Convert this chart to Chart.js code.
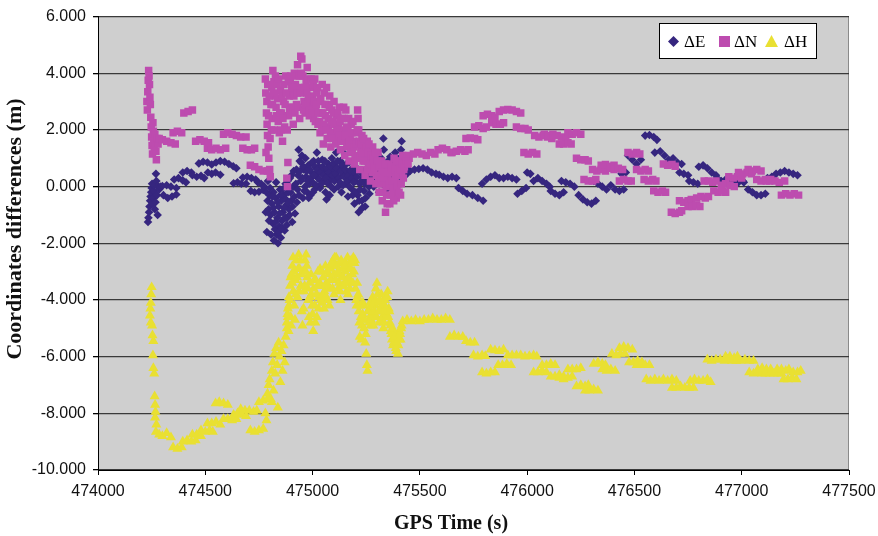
<!DOCTYPE html>
<html>
<head>
<meta charset="utf-8">
<script src="https://cdn.jsdelivr.net/npm/chart.js@4.4.1/dist/chart.umd.min.js"></script>
<style>
  html, body { margin: 0; padding: 0; background: #fff; }
  #wrap { width: 878px; height: 536px; }
</style>
</head>
<body>
<div id="wrap"><canvas id="c" width="878" height="536"></canvas></div>
<script>
// GPS time (s), coordinate difference (m)
const eastData = [
  [474233,-1.25],[474235,-1.1],[474238,-0.9],[474240,-0.7],[474243,-0.5],[474245,-0.35],[474248,-0.2],[474250,-0.05],
  [474252,0.1],[474255,-0.6],[474258,-0.4],[474260,-0.15],[474262,0.05],[474265,-0.8],[474268,-0.55],[474270,0.45],
  [474272,0.2],[474275,-0.3],[474278,-1.0],[474280,0.0],[474285,-0.1],[474290,0.0],
  [474300,0.02],[474320,0.05],[474340,0.0],[474365,-0.05],
  [474305,-0.3],[474325,-0.4],[474345,-0.35],[474365,-0.28],
  [474355,0.25],[474375,0.3],[474395,0.22],[474410,0.15],
  [474395,0.5],[474415,0.55],[474435,0.5],
  [474440,0.4],[474460,0.35],[474480,0.38],[474495,0.3],
  [474470,0.82],[474490,0.88],[474510,0.85],[474530,0.78],
  [474512,0.5],[474530,0.45],[474548,0.5],[474570,0.42],
  [474550,0.85],[474570,0.9],[474590,0.88],[474610,0.8],[474630,0.72],[474645,0.65],
  [474632,0.12],[474650,0.15],[474668,0.1],[474690,0.1],
  [474675,0.32],[474695,0.35],[474715,0.3],[474735,0.25],
  [474712,-0.15],[474730,-0.2],[474750,-0.18],[474770,-0.12],
  [474745,0.15],[474760,0.1],[474775,0.0],[474785,-0.2],[474790,-0.5],[474795,-0.8],[474800,-0.3],[474805,-1.0],
  [474810,-0.6],[474815,-1.3],[474818,-0.2],[474822,-0.9],[474825,-1.5],[474828,-0.4],[474832,-1.7],[474835,-1.1],
  [474839,-2.0],[474842,-0.7],[474845,-1.4],[474848,-0.1],[474852,-1.8],[474855,-0.5],[474858,-1.2],[474862,-0.9],
  [474865,-0.3],[474870,-1.55],[474874,0.1],[474878,-0.65],[474882,-1.1],[474886,-0.2],[474890,-0.8],[474895,0.3],
  [474900,-0.5],[474905,-1.25],[474910,0.0],[474915,-0.35],
  [474782,-0.9],[474787,-1.6],[474792,0.2],[474797,-1.2],[474802,-0.05],[474807,-1.7],[474812,-0.35],[474817,-0.75],
  [474820,-1.9],[474827,-1.25],[474830,0.15],[474837,-0.55],[474843,-1.6],[474847,-0.95],[474850,-0.3],[474857,-1.45],
  [474860,-0.1],[474867,-0.75],[474872,-1.1],[474876,-0.45],[474880,-1.35],[474884,0.2],[474888,-0.55],[474892,-1.0],
  [474897,-0.2],[474902,0.4],[474907,-0.7],[474912,0.55],[474918,-0.95],[474922,0.1],[474927,-0.55],
  [474925,0.6],[474930,-0.1],[474935,1.3],[474940,0.9],[474945,0.2],[474950,1.1],[474955,-0.4],[474960,0.6],
  [474965,0.0],[474970,0.35],[474975,-0.2],[474980,0.75],[474985,0.1],[474990,-0.3],[474995,0.5],[475000,0.15],
  [475005,0.9],[475010,-0.1],[475015,0.45],[475020,1.2],[475025,0.3],[475030,0.7],[475035,-0.05],[475040,0.5],
  [475045,0.95],[475050,0.2],[475055,0.6],[475060,-0.2],[475065,-0.45],[475070,0.4],[475075,0.8],[475080,-0.3],
  [475085,0.25],[475090,1.0],[475095,0.55],[475100,-0.1],[475105,0.7],[475110,1.2],[475115,0.35],[475120,0.0],
  [475125,0.6],[475130,0.9],[475135,-0.2],[475140,0.4],[475145,0.75],[475150,1.15],[475155,0.1],[475160,0.5],
  [475165,-0.35],[475170,0.85],[475175,0.25],[475180,0.6],[475185,-0.1],[475190,0.4],[475195,-0.6],[475200,0.2],
  [475205,0.65],[475210,-0.3],[475215,-0.9],[475220,0.1],[475225,0.5],[475230,-0.5],[475235,0.3],[475240,-0.15],
  [475245,-0.7],[475250,0.45],[475255,0.1],[475260,0.8],[475265,-0.25],[475270,1.3],[475275,0.35],[475280,0.95],
  [475285,0.0],[475290,0.6],[475295,1.1],[475300,0.2],[475305,0.75],[475310,-0.2],[475315,0.4],[475320,1.0],
  [475325,0.1],[475330,1.7],[475335,0.55],[475340,0.25],[475345,-0.1],[475350,0.45],[475355,0.15],[475360,0.65],
  [475365,0.3],[475370,0.9],[475375,0.05],[475380,0.5],[475385,1.2],[475390,0.3],[475395,0.7],[475400,0.45],
  [475405,1.0],[475410,0.35],[475415,1.6],[475420,0.55],[475425,0.9],[475430,0.4],[475435,0.6],[475440,0.45],
  [474932,0.4],[474937,-0.3],[474942,0.55],[474947,0.85],[474952,0.3],[474957,0.7],[474962,-0.15],[474967,1.0],
  [474972,0.55],[474977,0.2],[474982,-0.4],[474987,0.6],[474992,0.3],[474997,0.85],[475002,-0.2],[475007,0.4],
  [475012,0.7],[475017,0.05],[475022,0.6],[475027,0.9],[475032,0.25],[475037,0.5],[475042,0.1],[475047,0.7],
  [475052,0.4],[475057,0.9],[475062,0.3],[475067,0.65],[475072,0.1],[475077,0.5],[475082,0.7],[475087,0.0],
  [475092,0.4],[475097,0.8],[475102,0.2],[475107,0.45],[475112,0.65],[475117,0.9],[475122,0.3],[475127,0.15],
  [475132,0.55],[475137,0.75],[475142,0.05],[475147,0.35],[475152,0.6],[475157,0.8],[475162,0.2],[475167,0.4],
  [475172,0.0],[475177,0.55],[475182,0.3],[475187,-0.3],[475192,0.15],[475197,0.5],[475202,-0.2],[475207,0.35],
  [475212,0.6],[475217,-0.5],[475222,-0.1],[475227,0.2],[475232,-0.75],[475237,0.55],[475242,0.1],[475247,-0.4],
  [475252,0.25],[475257,0.55],[475262,0.0],[475267,0.4],[475272,0.7],[475277,0.15],[475282,0.5],[475287,0.3],
  [475292,0.8],[475297,0.45],[475302,0.55],[475307,1.0],[475312,0.3],[475317,0.7],[475322,0.45],[475327,0.8],
  [475332,1.3],[475337,0.35],[475342,0.75],[475347,0.5],[475352,0.9],[475357,0.4],[475362,1.05],[475367,0.6],
  [475372,0.25],[475377,0.8],[475382,0.65],[475387,0.45],[475392,1.0],[475397,0.55],[475402,0.8],[475407,0.6],
  [475412,1.3],[475417,0.75],[475422,0.5],[475427,0.65],[475432,0.55],[475437,0.7],[475445,0.55],
  [475455,0.55],[475475,0.6],[475495,0.62],[475515,0.65],[475535,0.6],[475555,0.5],[475575,0.45],
  [475590,0.42],[475610,0.35],[475630,0.3],[475650,0.35],[475670,0.3],
  [475680,-0.05],[475700,-0.15],[475720,-0.25],[475745,-0.3],[475770,-0.4],[475795,-0.5],
  [475790,0.1],[475810,0.25],[475830,0.35],[475850,0.4],[475870,0.3],[475890,0.3],[475910,0.35],[475930,0.3],[475950,0.25],
  [475955,-0.25],[475975,-0.15],[475995,-0.05],[476000,0.5],[476015,0.45],
  [476030,0.2],[476050,0.3],[476070,0.2],[476090,0.1],[476105,0.0],
  [476110,-0.15],[476130,-0.25],[476150,-0.3],[476170,-0.2],
  [476160,0.2],[476180,0.15],[476200,0.1],[476220,0.0],
  [476240,-0.3],[476260,-0.45],[476280,-0.55],[476300,-0.6],[476320,-0.5],
  [476310,0.2],[476330,0.1],[476350,0.0],[476370,-0.1],
  [476390,0.05],[476410,-0.1],[476430,-0.15],[476450,-0.1],
  [476440,0.45],[476460,0.5],
  [476470,1.1],[476490,0.95],[476510,0.8],[476530,0.95],
  [476550,1.8],[476570,1.82],[476590,1.75],[476605,1.65],
  [476595,1.2],[476620,1.25],[476640,1.1],[476660,0.95],[476680,1.0],[476700,0.85],[476720,0.8],
  [476710,0.5],[476730,0.45],[476750,0.4],
  [476755,0.2],[476775,0.15],[476795,0.1],
  [476800,0.7],[476820,0.75],[476840,0.65],[476860,0.5],[476880,0.4],
  [476885,0.3],[476905,0.2],[476925,0.25],[476945,0.3],[476965,0.2],[476985,0.15],[477005,0.2],
  [477010,0.15],[477030,-0.1],[477050,-0.2],[477070,-0.3],[477090,-0.3],[477110,-0.25],
  [477120,0.3],[477140,0.35],[477160,0.45],[477180,0.5],[477200,0.55],[477220,0.5],[477240,0.45],[477260,0.4]
];

const northData = [
  [474228,3.0],[474230,2.7],[474232,3.35],[474234,3.75],[474236,4.1],[474238,3.9],[474240,3.6],[474242,3.15],
  [474244,2.9],[474246,2.45],[474248,2.1],[474250,1.75],[474252,1.45],[474254,1.15],[474256,2.25],[474258,1.95],
  [474260,1.6],[474262,1.3],[474265,1.85],[474268,1.55],[474270,1.25],[474272,0.95],[474275,1.7],[474280,1.5],[474285,1.7],
  [474300,1.65],[474320,1.6],[474340,1.55],[474360,1.5],
  [474350,1.9],[474370,1.95],[474390,1.9],
  [474400,2.6],[474420,2.65],[474440,2.7],
  [474455,1.6],[474475,1.65],[474495,1.6],[474515,1.55],
  [474510,1.35],[474530,1.3],[474550,1.35],[474570,1.3],[474595,1.35],
  [474585,1.85],[474605,1.9],[474625,1.85],[474645,1.8],[474665,1.75],[474690,1.75],
  [474675,1.35],[474695,1.3],[474715,1.3],[474730,1.35],
  [474710,0.75],[474730,0.7],[474750,0.6],[474770,0.55],[474790,0.55],
  [474780,3.8],[474782,3.3],[474785,2.6],[474788,2.2],[474790,1.8],[474793,1.4],[474796,1.0],[474800,0.6],
  [474803,0.35],[474806,2.9],[474810,3.5],[474812,2.4],
  [474815,4.1],[474820,3.7],[474825,3.2],[474830,2.8],[474835,3.6],[474840,2.3],[474845,1.9],[474850,3.4],
  [474855,2.6],[474860,1.6],[474865,3.0],[474870,2.1],[474875,3.9],[474880,0.3],[474883,0.0],[474885,0.85],
  [474888,2.5],[474892,3.2],[474896,3.7],[474900,2.8],[474905,3.3],[474910,2.2],[474915,4.0],[474920,3.6],
  [474925,2.9],[474930,4.3],[474935,3.5],[474940,2.4],[474945,4.6],[474950,4.5],[474955,3.9],[474960,3.0],
  [474965,2.6],[474970,3.7],[474975,4.2],[474980,3.1],[474985,2.5],[474990,3.5],[474995,2.9],[475000,3.2],
  [475005,2.4],[475010,3.8],[475015,2.7],[475020,3.3],[475025,2.2],[475030,3.0],[475035,1.9],[475040,2.6],
  [475045,3.6],[475050,1.5],[475055,3.3],[475060,2.5],[475065,3.5],[475068,1.7],[475070,2.9],[475075,2.1],
  [475080,3.2],[475085,1.4],[475090,2.7],[475095,2.3],[475100,3.0],[475105,1.9],[475110,2.5],[475115,1.6],
  [475120,2.2],[475125,2.8],[475130,1.3],[475135,2.0],[475140,1.7],[475145,2.8],[475148,2.4],[475150,1.1],
  [475155,2.7],[475160,1.5],[475165,2.0],[475170,0.9],[475175,1.8],[475180,2.2],[475185,1.3],[475190,1.6],
  [475195,0.8],[475200,1.9],[475205,1.1],[475210,2.7],[475212,2.4],[475215,2.0],[475220,0.6],[475225,1.3],
  [475230,1.8],[475235,0.9],[475240,1.4],[475245,0.4],[475250,1.1],[475255,1.6],[475260,0.7],[475265,1.2],
  [475270,0.2],[475275,0.9],[475280,1.4],[475285,0.5],[475290,1.0],[475295,0.1],[475300,0.7],[475305,1.2],
  [475310,-0.2],[475315,0.4],[475320,0.9],[475325,-0.5],[475330,0.1],[475335,0.6],[475340,-0.9],[475345,-0.3],
  [475350,0.3],[475355,0.8],[475360,-0.6],[475365,0.0],[475370,0.5],[475375,-0.2],[475380,1.0],[475385,0.3],
  [475390,-0.4],[475395,0.7],[475400,0.1],[475405,0.9],[475410,-0.3],[475415,0.4],[475420,1.1],[475425,0.6],
  [475430,0.9],[475440,1.1],[475450,1.0],
  [474783,1.2],[474787,3.0],[474791,3.6],[474795,2.5],[474798,3.2],[474802,1.7],[474808,2.0],[474813,2.9],
  [474817,3.3],[474822,2.0],[474827,3.9],[474832,2.5],[474837,3.1],[474842,3.8],[474847,2.6],[474852,2.0],
  [474857,3.2],[474862,2.4],[474867,3.6],[474872,2.9],[474877,3.3],[474882,2.0],[474887,3.8],[474893,2.7],
  [474898,3.9],[474903,3.5],[474908,2.8],[474913,3.2],[474918,2.6],[474923,3.9],[474928,3.3],[474933,2.8],
  [474938,3.9],[474943,3.3],[474948,4.0],[474953,3.4],[474958,2.7],[474963,3.5],[474968,2.9],[474973,3.3],
  [474978,3.8],[474983,2.7],[474988,3.1],[474993,3.8],[474998,2.6],[475003,3.6],[475008,3.0],[475013,2.3],
  [475018,2.9],[475023,3.5],[475028,2.6],[475033,2.3],[475038,3.1],[475043,2.0],[475048,2.6],[475053,2.2],
  [475058,2.9],[475063,2.0],[475073,2.4],[475078,2.8],[475083,1.9],[475088,2.3],[475093,1.7],[475098,2.6],
  [475103,2.2],[475108,1.5],[475113,2.0],[475118,2.6],[475123,1.8],[475128,2.3],[475133,1.6],[475138,2.4],
  [475143,1.9],[475153,1.8],[475158,2.1],[475163,1.4],[475168,2.4],[475173,1.6],[475178,1.2],[475183,1.9],
  [475188,2.3],[475193,1.4],[475198,1.0],[475203,1.5],[475208,2.0],[475218,1.6],[475223,1.0],[475228,1.5],
  [475233,1.2],[475238,1.7],[475243,0.9],[475248,1.4],[475253,0.6],[475258,1.2],[475263,1.5],[475268,0.8],
  [475273,1.1],[475278,0.5],[475283,1.0],[475288,0.7],[475293,1.2],[475298,0.4],[475303,0.9],[475308,0.3],
  [475313,0.7],[475318,0.1],[475323,0.5],[475328,-0.2],[475333,0.3],[475338,0.8],[475343,0.0],[475348,-0.6],
  [475353,0.5],[475358,0.1],[475363,-0.3],[475368,0.7],[475373,0.2],[475378,-0.5],[475383,0.6],[475388,0.9],
  [475393,0.0],[475398,0.4],[475403,-0.2],[475408,0.6],[475413,0.1],[475418,0.8],[475423,0.3],[475428,0.7],
  [475435,0.9],[475445,0.8],
  [475470,1.15],[475490,1.2],[475510,1.15],[475530,1.1],[475550,1.2],[475570,1.15],
  [475585,1.3],[475605,1.35],[475625,1.3],[475645,1.2],
  [475650,1.2],[475670,1.25],[475690,1.3],[475710,1.25],[475725,1.3],
  [475715,1.7],[475735,1.72],[475755,1.7],[475770,1.65],
  [475755,2.1],[475775,2.15],[475795,2.05],[475810,2.1],
  [475795,2.5],[475815,2.55],[475835,2.5],[475850,2.45],
  [475835,2.25],[475855,2.2],[475875,2.2],[475890,2.25],
  [475870,2.65],[475890,2.7],[475910,2.72],[475930,2.7],[475950,2.65],[475970,2.6],
  [475950,2.1],[475970,2.05],[475990,2.05],[476005,2.0],
  [475985,1.2],[476005,1.15],[476025,1.2],[476045,1.15],
  [476035,1.8],[476055,1.75],[476075,1.8],[476095,1.75],[476115,1.7],
  [476080,1.85],[476100,1.8],[476120,1.85],[476140,1.8],[476160,1.75],[476180,1.7],
  [476150,1.5],[476170,1.5],[476190,1.55],[476205,1.5],
  [476190,1.9],[476210,1.85],[476230,1.9],[476250,1.85],
  [476230,1.0],[476250,0.95],[476270,0.95],[476285,0.9],
  [476265,0.25],[476285,0.2],[476305,0.2],[476320,0.25],
  [476305,0.6],[476325,0.55],[476345,0.6],[476365,0.55],
  [476345,0.75],[476365,0.78],[476385,0.72],[476405,0.75],
  [476385,0.65],[476405,0.6],[476425,0.65],[476445,0.6],
  [476430,0.2],[476450,0.25],[476470,0.2],[476485,0.2],
  [476470,1.2],[476490,1.15],[476510,1.2],[476525,1.15],
  [476510,0.6],[476530,0.55],[476550,0.6],[476565,0.55],
  [476545,0.25],[476565,0.2],[476585,0.25],[476600,0.2],
  [476590,-0.15],[476610,-0.2],[476630,-0.15],[476645,-0.2],
  [476635,0.8],[476655,0.75],[476675,0.78],[476690,0.72],
  [476672,-0.9],[476690,-0.95],[476710,-0.9],[476720,-0.85],
  [476710,-0.5],[476730,-0.55],[476750,-0.5],[476765,-0.45],
  [476750,-0.7],[476770,-0.7],[476790,-0.65],[476805,-0.7],
  [476790,-0.4],[476810,-0.35],[476830,-0.4],[476845,-0.35],
  [476825,0.2],[476845,0.2],[476865,0.15],[476880,0.2],
  [476870,-0.15],[476890,-0.2],[476910,-0.15],[476925,-0.2],
  [476905,0.05],[476925,0.1],[476945,0.05],[476965,0.0],
  [476940,0.35],[476960,0.3],[476980,0.35],[477000,0.3],
  [476985,0.5],[477005,0.45],[477025,0.5],[477045,0.45],
  [477030,0.6],[477050,0.55],[477070,0.6],[477090,0.55],
  [477070,0.25],[477090,0.2],[477110,0.25],[477130,0.2],
  [477115,0.2],[477135,0.25],[477155,0.2],[477175,0.15],[477200,0.2],
  [477185,-0.3],[477205,-0.25],[477225,-0.3],[477245,-0.25],[477265,-0.3]
];

const heightData = [
  [474250,-3.55],[474248,-3.8],[474246,-4.1],[474244,-4.3],[474242,-4.55],[474246,-4.8],[474252,-4.9],[474254,-5.25],
  [474258,-5.45],[474256,-5.95],[474258,-6.4],[474262,-6.6],[474264,-7.4],[474266,-7.7],[474268,-7.95],[474266,-8.15],
  [474272,-8.4],[474270,-8.65],
  [474285,-8.75],[474300,-8.8],[474320,-8.7],[474340,-8.85],
  [474350,-9.2],[474370,-9.25],[474390,-9.2],
  [474395,-9.0],[474415,-8.95],[474435,-9.0],[474455,-8.95],
  [474440,-8.75],[474460,-8.75],[474480,-8.8],
  [474480,-8.6],[474500,-8.65],[474520,-8.6],[474535,-8.65],
  [474510,-8.35],[474530,-8.35],[474550,-8.3],[474570,-8.4],
  [474548,-7.65],[474565,-7.6],[474585,-7.65],[474605,-7.7],
  [474585,-8.2],[474605,-8.2],[474625,-8.25],[474645,-8.2],
  [474632,-8.05],[474650,-8.0],[474670,-8.05],[474690,-8.1],
  [474665,-7.85],[474685,-7.9],[474705,-7.9],[474725,-7.95],[474740,-7.9],
  [474710,-8.6],[474730,-8.65],[474750,-8.6],[474770,-8.55],
  [474750,-7.6],[474770,-7.55],[474790,-7.5],[474810,-7.6],
  [474780,-8.0],[474785,-8.25],[474790,-7.3],[474795,-7.0],[474800,-6.8],[474805,-7.5],[474810,-6.5],[474815,-6.2],
  [474818,-7.2],[474822,-5.9],[474826,-6.6],[474830,-5.7],[474835,-6.3],[474838,-7.8],[474842,-5.5],[474846,-6.0],
  [474850,-6.9],[474855,-5.8],[474860,-6.5],[474865,-5.6],[474870,-6.2],[474875,-5.3],[474880,-5.0],[474885,-4.6],
  [474890,-4.2],
  [474880,-4.8],[474885,-4.3],[474890,-3.9],[474895,-3.5],[474898,-4.6],[474902,-3.1],[474906,-2.8],[474910,-3.7],
  [474915,-4.2],[474920,-3.3],[474925,-2.6],[474930,-3.9],[474935,-2.4],[474940,-2.9],[474945,-3.5],[474950,-4.4],
  [474955,-3.0],[474960,-3.7],[474965,-2.6],[474970,-2.4],[474975,-3.2],[474980,-4.0],[474985,-3.4],[474990,-4.8],
  [474995,-3.8],[475000,-4.5],[475005,-3.6],[475010,-4.2],[475015,-3.3],[475020,-4.6],[475025,-3.0],[475030,-3.9],
  [475035,-2.9],[475040,-3.5],[475045,-4.1],[475050,-3.2],[475055,-3.7],[475060,-2.8],[475065,-3.4],[475070,-4.0],
  [475075,-3.1],[475080,-3.6],
  [475085,-2.9],[475090,-3.3],[475095,-2.6],[475100,-3.8],[475105,-2.8],[475110,-2.5],[475115,-3.1],[475120,-3.6],
  [475125,-2.7],[475130,-4.0],[475135,-3.2],[475140,-2.9],[475145,-3.5],[475150,-3.0],[475155,-2.7],[475160,-3.3],
  [475165,-3.8],[475170,-2.9],[475175,-3.4],[475180,-2.6],[475185,-3.1],[475190,-2.5],[475195,-2.7],[475200,-3.6],
  [475205,-4.2],[475210,-3.9],[475215,-4.4],[475220,-5.3],[475225,-4.6],[475230,-4.9],[475235,-4.1],[475240,-5.0],
  [475245,-5.5],[475250,-5.9],[475253,-6.3],[475256,-6.5],[475260,-4.7],[475265,-4.3],[475270,-4.9],[475275,-4.5],
  [475280,-3.9],[475285,-4.6],[475290,-4.2],[475295,-3.6],[475300,-3.4],[475305,-4.1],[475310,-4.8],[475315,-4.4],
  [475320,-3.8],[475325,-4.6],[475330,-5.0],[475335,-4.2],[475340,-3.9],[475345,-4.5],[475350,-3.7],[475355,-4.3],
  [475360,-4.8],[475365,-5.1],[475370,-5.4],[475375,-5.6],[475380,-5.2],[475385,-5.5],[475390,-5.8],[475395,-5.3],
  [475400,-5.6],[475405,-5.1],[475410,-5.4],[475415,-4.9],
  [474883,-4.5],[474888,-5.1],[474893,-4.0],[474897,-3.2],[474901,-4.9],[474905,-3.4],[474909,-2.5],[474913,-3.0],
  [474918,-4.7],[474922,-3.8],[474928,-3.2],[474933,-2.9],[474938,-3.7],[474943,-2.6],[474948,-3.1],[474953,-4.9],
  [474958,-4.3],[474963,-3.5],[474968,-3.0],[474973,-2.8],[474978,-3.6],[474983,-4.6],[474988,-3.9],[474993,-3.1],
  [474998,-4.2],[475003,-5.1],[475008,-3.3],[475013,-4.8],[475018,-3.8],[475023,-3.5],[475028,-4.3],[475033,-3.4],
  [475038,-4.0],[475043,-3.0],[475048,-3.8],[475053,-4.3],[475058,-3.5],[475063,-3.9],[475068,-3.0],[475073,-3.5],
  [475078,-4.2],[475083,-3.3],[475088,-2.7],[475093,-3.6],[475098,-3.1],[475103,-2.5],[475108,-3.3],[475113,-2.8],
  [475118,-3.0],[475123,-3.4],[475128,-3.7],[475133,-2.6],[475138,-3.5],[475143,-3.2],[475148,-2.8],[475153,-3.4],
  [475158,-3.7],[475163,-2.5],[475168,-3.2],[475173,-3.6],[475178,-2.9],[475183,-2.7],[475188,-3.4],[475193,-3.0],
  [475198,-2.6],[475203,-4.0],[475208,-3.4],[475213,-3.8],[475218,-4.8],[475223,-4.2],[475228,-5.4],[475233,-4.5],
  [475238,-4.2],[475243,-4.7],[475248,-5.2],[475258,-4.4],[475263,-4.8],[475268,-4.1],[475273,-4.7],[475278,-4.2],
  [475283,-4.9],[475288,-4.4],[475293,-4.0],[475298,-4.6],[475303,-3.8],[475308,-4.4],[475313,-4.0],[475318,-4.7],
  [475323,-4.2],[475328,-4.4],[475333,-4.8],[475338,-4.0],[475343,-4.3],[475348,-3.9],[475353,-4.6],[475358,-4.4],
  [475363,-4.9],[475368,-5.2],[475373,-5.0],[475378,-5.5],[475383,-5.3],[475388,-5.7],[475393,-5.5],[475398,-5.9],
  [475403,-5.4],[475408,-5.2],[475413,-5.0],
  [475420,-4.75],[475440,-4.7],[475460,-4.75],[475480,-4.7],[475500,-4.75],[475520,-4.7],[475540,-4.7],[475560,-4.65],
  [475580,-4.7],[475600,-4.7],[475620,-4.65],[475640,-4.7],
  [475640,-5.3],[475660,-5.25],[475680,-5.3],[475700,-5.3],[475715,-5.45],[475735,-5.5],[475755,-5.5],
  [475750,-5.95],[475770,-6.0],[475790,-5.95],[475805,-5.98],
  [475790,-6.55],[475810,-6.6],[475830,-6.55],[475850,-6.55],
  [475830,-5.75],[475850,-5.78],[475870,-5.8],[475890,-5.75],
  [475865,-6.3],[475885,-6.3],[475905,-6.25],[475925,-6.3],
  [475910,-5.95],[475930,-5.95],[475950,-5.95],[475970,-5.95],[475990,-6.0],[476010,-5.98],[476030,-5.95],[476045,-6.0],
  [476030,-6.55],[476050,-6.55],[476070,-6.5],[476090,-6.55],
  [476070,-6.3],[476090,-6.3],[476110,-6.25],[476130,-6.3],
  [476110,-6.7],[476130,-6.7],[476150,-6.65],[476170,-6.7],
  [476150,-6.75],[476170,-6.8],[476190,-6.75],[476210,-6.7],
  [476190,-6.45],[476210,-6.45],[476230,-6.45],[476250,-6.4],
  [476230,-7.05],[476250,-7.0],[476270,-7.05],[476285,-7.0],
  [476270,-7.2],[476290,-7.2],[476310,-7.15],[476330,-7.2],
  [476310,-6.25],[476330,-6.2],[476350,-6.25],[476365,-6.3],
  [476350,-6.45],[476370,-6.5],[476390,-6.45],[476410,-6.5],
  [476395,-5.9],[476415,-5.95],[476435,-5.9],[476455,-5.9],
  [476430,-5.7],[476450,-5.65],[476470,-5.7],[476490,-5.75],
  [476475,-6.2],[476495,-6.2],[476515,-6.15],[476535,-6.2],
  [476510,-6.3],[476530,-6.3],[476550,-6.3],[476570,-6.3],
  [476555,-6.8],[476575,-6.85],[476595,-6.8],[476615,-6.85],[476635,-6.8],[476655,-6.85],[476675,-6.8],[476695,-6.85],
  [476675,-7.1],[476695,-7.1],[476715,-7.05],[476735,-7.1],[476755,-7.1],[476775,-7.1],
  [476760,-6.85],[476780,-6.8],[476800,-6.85],[476820,-6.85],[476840,-6.8],[476855,-6.9],
  [476840,-6.1],[476860,-6.15],[476880,-6.1],[476900,-6.1],[476920,-6.15],[476935,-6.1],
  [476925,-6.0],[476945,-6.0],[476965,-6.05],[476980,-6.0],
  [476955,-6.15],[476975,-6.15],[476995,-6.15],[477015,-6.1],[477035,-6.15],[477055,-6.15],
  [477035,-6.55],[477055,-6.6],[477075,-6.55],[477095,-6.6],
  [477075,-6.45],[477095,-6.4],[477115,-6.45],[477135,-6.45],
  [477110,-6.6],[477130,-6.6],[477150,-6.6],[477170,-6.6],[477185,-6.6],
  [477165,-6.45],[477185,-6.45],[477205,-6.5],[477220,-6.45],
  [477195,-6.8],[477215,-6.8],[477235,-6.75],[477255,-6.8],
  [477240,-6.55],[477260,-6.55],[477275,-6.5]
];

const seriesLabels = ['\u0394E', '\u0394N', '\u0394H'];
const xTickRange = [474000, 477500, 500];
const yTickRange = [-10, 6, 2];
const xTitle = 'GPS Time (s)';
const yTitle = 'Coordinates differences (m)';

const colE = '#36267f', colN = '#bd4caf', colH = '#e9e032';
const toXY = arr => arr.map(p => ({x: p[0], y: p[1]}));

// gray plot area behind the points
const plotBg = {
  id: 'plotBg',
  beforeDraw(chart){
    const {ctx, chartArea: a} = chart;
    ctx.save();
    ctx.fillStyle = '#cfcfcf';
    ctx.fillRect(a.left, a.top, a.right - a.left, a.bottom - a.top);
    ctx.strokeStyle = '#8a8a8a';
    ctx.lineWidth = 1;
    ctx.beginPath();
    ctx.moveTo(a.right - 0.5, a.top); ctx.lineTo(a.right - 0.5, a.bottom);
    ctx.stroke();
    ctx.restore();
  }
};

// axis titles, placed like the original (slightly off-centre)
const axisTitles = {
  id: 'axisTitles',
  afterDraw(chart){
    const ctx = chart.ctx;
    ctx.save();
    ctx.fillStyle = '#111';
    ctx.textAlign = 'center';
    ctx.textBaseline = 'middle';
    ctx.font = 'bold 20px "Liberation Serif"';
    ctx.fillText(xTitle, 451, 524);
    ctx.translate(15, 229);
    ctx.rotate(-Math.PI / 2);
    ctx.font = 'bold 22px "Liberation Serif"';
    ctx.fillText(yTitle, 0, 0);
    ctx.restore();
  }
};

// boxed legend in the upper right of the plot
const boxLegend = {
  id: 'boxLegend',
  afterDatasetsDraw(chart){
    const ctx = chart.ctx;
    const ds = chart.data.datasets;
    ctx.save();
    ctx.fillStyle = '#fff';
    ctx.fillRect(659, 23, 157, 35);
    ctx.strokeStyle = '#000';
    ctx.lineWidth = 1;
    ctx.strokeRect(659.5, 23.5, 157, 35);
    const xs = [673.5, 724.5, 771.5];
    const gap = [10.5, 9.5, 12.5];
    ds.forEach((d, i) => {
      const x = xs[i], y = 41.5;
      ctx.fillStyle = d.backgroundColor;
      ctx.beginPath();
      if (d.pointStyle === 'rectRot'){
        ctx.moveTo(x - 5.5, y); ctx.lineTo(x, y - 5.5); ctx.lineTo(x + 5.5, y); ctx.lineTo(x, y + 5.5);
      } else if (d.pointStyle === 'rect'){
        ctx.rect(x - 5.5, y - 5.5, 11, 11);
      } else {
        ctx.moveTo(x, y - 6.5); ctx.lineTo(x + 6.5, y + 5.5); ctx.lineTo(x - 6.5, y + 5.5);
      }
      ctx.closePath();
      ctx.fill();
      ctx.fillStyle = '#000';
      ctx.font = '17px "Liberation Serif"';
      ctx.textBaseline = 'middle';
      ctx.fillText(d.label, x + gap[i], y + 1);
    });
    ctx.restore();
  }
};

new Chart(document.getElementById('c'), {
  type: 'scatter',
  data: {
    datasets: [
      { label: seriesLabels[0], data: toXY(eastData), pointStyle: 'rectRot', radius: 4.3,
        backgroundColor: colE, borderColor: colE, borderWidth: 0, order: 3 },
      { label: seriesLabels[1], data: toXY(northData), pointStyle: 'rect', radius: 5.3,
        backgroundColor: colN, borderColor: colN, borderWidth: 0, order: 2 },
      { label: seriesLabels[2], data: toXY(heightData), pointStyle: 'triangle', radius: 5.8,
        backgroundColor: colH, borderColor: colH, borderWidth: 0, order: 1 }
    ]
  },
  options: {
    responsive: false,
    animation: false,
    devicePixelRatio: 1,
    layout: { padding: { left: 0, top: 11, right: 29, bottom: 0 } },
    plugins: { legend: { display: false }, tooltip: { enabled: false } },
    scales: {
      x: {
        type: 'linear',
        min: xTickRange[0], max: xTickRange[1],
        afterFit: s => { s.height = 66; s.paddingLeft = 0; s.paddingRight = 0; },
        ticks: { stepSize: xTickRange[2], color: '#111', padding: 7,
          font: { family: '"Liberation Sans", Arial', size: 16 },
          callback: v => String(v) },
        grid: { drawOnChartArea: false, drawTicks: true, tickLength: 5, tickColor: '#000' },
        border: { color: '#000', width: 1 }
      },
      y: {
        type: 'linear',
        min: yTickRange[0], max: yTickRange[1],
        afterFit: s => { s.width = 98; },
        ticks: { stepSize: yTickRange[2], color: '#111', padding: 7,
          font: { family: '"Liberation Sans", Arial', size: 16 },
          callback: v => Number(v).toFixed(3) },
        grid: { color: '#3a3a3a', lineWidth: 1.3, drawTicks: true, tickLength: 5, tickColor: '#000' },
        border: { color: '#000', width: 1 }
      }
    }
  },
  plugins: [plotBg, axisTitles, boxLegend]
});
</script>
</body>
</html>
